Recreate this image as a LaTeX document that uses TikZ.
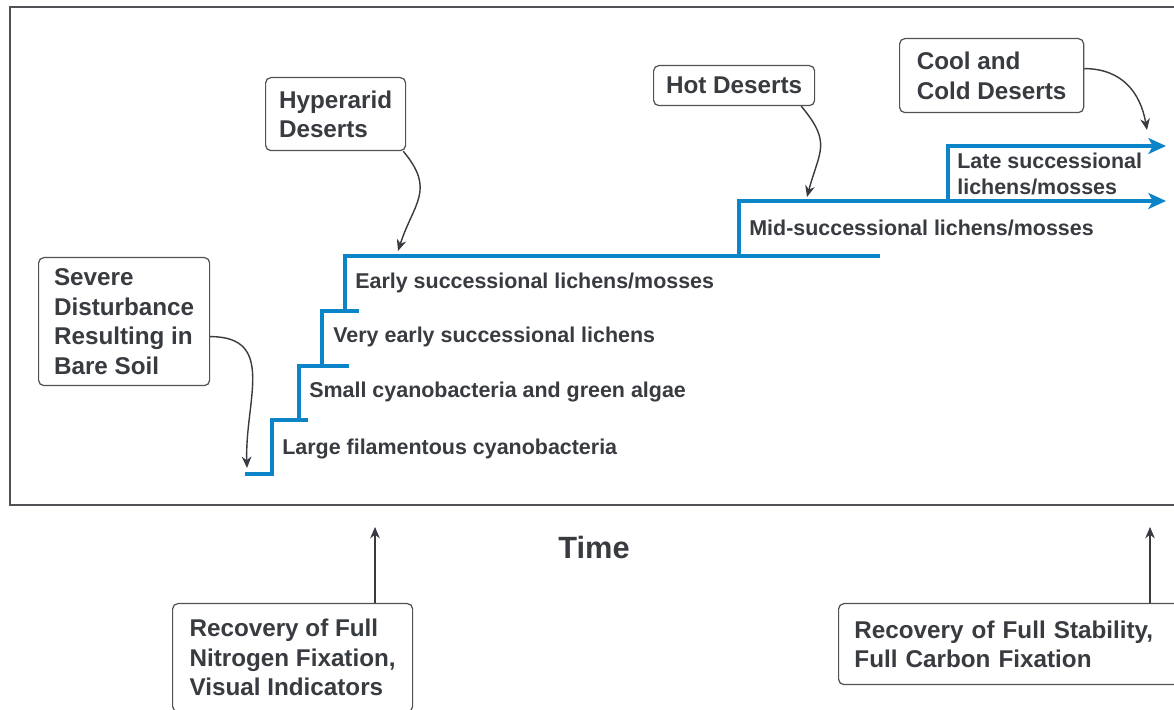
\documentclass[tikz,border=0pt]{standalone}
\usepackage{fontspec}
\setmainfont{Liberation Sans}
\usepackage{tikz}
\usetikzlibrary{arrows.meta}
\definecolor{stairblue}{RGB}{12,133,200}
\definecolor{inkgray}{RGB}{56,59,63}
\definecolor{framegray}{RGB}{80,82,85}

\begin{document}
\begin{tikzpicture}[
            x = 0.2mm, y = 0.2mm, % one unit per pixel
            > = {Stealth[length=6.5pt,width=5.5pt]}, % arrow head style
            stair/.style = {draw=stairblue, line width=2pt},
            box/.style = {draw=framegray, line width=0.7pt, rounded corners=3pt, anchor=north west,
                align=left, inner sep=0pt, text=inkgray, font=\fontsize{13.8}{16.8}\selectfont\bfseries},
            stage/.style = {anchor=west, align=left, inner sep=0pt, text=inkgray,
                font=\fontsize{12.2}{14.6}\selectfont\bfseries},
            pointer/.style = {->, draw=inkgray, line width=0.8pt}
        ]
\useasboundingbox (0,0) rectangle (1174,710);
\clip (0,0) rectangle (1174,710);
\fill[white] (0,0) rectangle (1174,710);

% outer frame
\draw[framegray, line width=0.85pt] (10,205) rectangle (1190,703);

% staircase
\coordinate (base) at (245,236);
\draw[stair] (base) -- (272,236) -- (272,290) -- (308,290);
\draw[stair] (299,290) -- (299,344) -- (349,344);
\draw[stair] (322,344) -- (322,399) -- (359,399);
\draw[stair] (345,399) -- (345,454) -- (880,454);
\draw[stair, -{Stealth[length=10pt,width=9pt,inset=2.5pt]}] (739,454) -- (739,509) -- (1166,509);
\draw[stair, -{Stealth[length=10pt,width=9pt,inset=2.5pt]}] (948,509) -- (948,564) -- (1166,564);

\node[stage] (large) at (282,261) {Large filamentous cyanobacteria};
\node[stage] (small) at (309,318) {Small cyanobacteria and green algae};
\node[stage] (veryearly) at (333,373) {Very early successional lichens};
\node[stage] (early) at (355,427) {Early successional lichens/mosses};
\node[stage] (mid) at (749,482) {Mid-successional lichens/mosses};
\node[stage] (late) at (957,536) {Late successional\\lichens/mosses};

% desert boxes
\node[box, minimum width=3.42cm, minimum height=2.56cm] (severe) at (38,453) {Severe\\Disturbance\\Resulting in\\Bare Soil};
\node[box, minimum width=2.8cm, minimum height=1.46cm] (hyper) at (265,633) {Hyperarid\\Deserts};
\node[box, minimum width=3.22cm, minimum height=0.8cm] (hot) at (653,645) {Hot Deserts};
\node[box, minimum width=3.68cm, minimum height=1.48cm] (cool) at (899,672) {Cool and\\Cold Deserts};

\coordinate (soilend) at (247,242);
\coordinate (hyperend) at (398,459);
\coordinate (hotend) at (807,513);
\coordinate (coolend) at (1147,580);

\draw[pointer] ([yshift=-3mm]severe.east) to[out=0, in=92, looseness=1.25] (soilend);
\draw[pointer] ([xshift=-0.6mm]hyper.south east) to[out=-50, in=72, looseness=1.3] (hyperend);
\draw[pointer] ([xshift=-2.8mm]hot.south east) to[out=-50, in=75, looseness=1.35] (hotend);
\draw[pointer] ([yshift=1.4mm]cool.east) to[out=0, in=100, looseness=1.1] (coolend);

% time axis
\node[text=inkgray, font=\fontsize{17.5}{20}\selectfont\bfseries] (time) at (594,162) {Time};

\node[box, minimum width=4.8cm, minimum height=2.16cm] (nitro) at (172,107) {Recovery of Full\\Nitrogen Fixation,\\Visual Indicators};
\node[box, inner xsep=9pt, text width=6.6cm, minimum height=1.62cm] (carbon) at (838,107) {Recovery of Full Stability,\\Full Carbon Fixation};

\coordinate (nitroend) at (375,183);
\coordinate (carbonend) at (1150,183);
\draw[pointer, line width=0.6pt] (nitroend |- nitro.north) -- (nitroend);
\draw[pointer, line width=0.6pt] (carbonend |- carbon.north) -- (carbonend);
\end{tikzpicture}
\end{document}
